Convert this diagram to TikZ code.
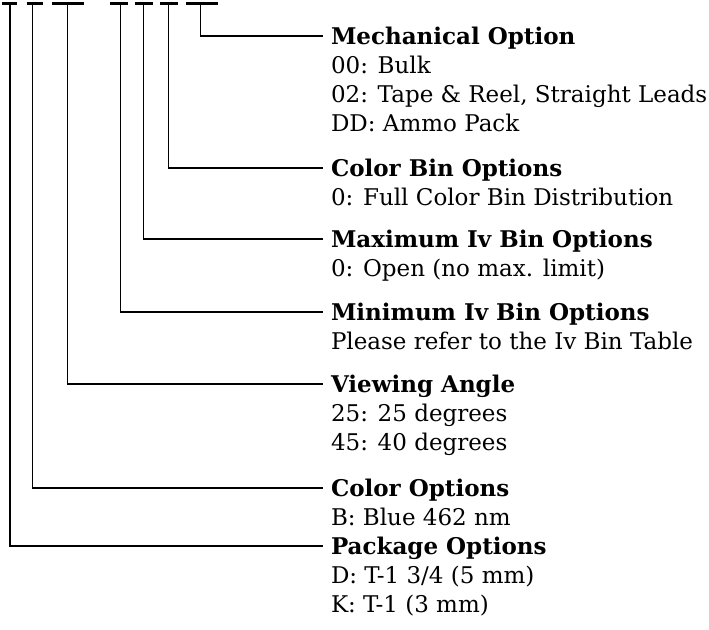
\documentclass[tikz,border=0pt]{standalone}
\usepackage{fontspec}
\setmainfont{DejaVu Serif}
\begin{document}
\begin{tikzpicture}[x=1pt,y=-1pt,
    bar/.style={line width=3pt},
    lead/.style={line width=1.2pt,shorten >=8pt},
    head/.style={anchor=west,inner sep=0pt,outer sep=0pt,text height=16.8pt,text depth=0pt,
      font=\fontsize{23}{29}\selectfont\bfseries},
    entry/.style={anchor=base west,inner sep=0pt,outer sep=0pt,font=\fontsize{23}{29}\selectfont}]
  \useasboundingbox (0,0) rectangle (709,629);
  % code field bars
  \draw[bar] (1.7,3.5) -- (17.3,3.5);
  \draw[bar] (26.7,3.5) -- (42.7,3.5);
  \draw[bar] (52,3.5) -- (84,3.5);
  \draw[bar] (110,3.5) -- (128,3.5);
  \draw[bar] (135,3.5) -- (153,3.5);
  \draw[bar] (160,3.5) -- (178,3.5);
  \draw[bar] (186,3.5) -- (218,3.5);
  \coordinate (pkgTop) at (10,3.5);
  \coordinate (colTop) at (32.7,3.5);
  \coordinate (viewTop) at (67.7,3.5);
  \coordinate (minTop) at (120.7,3.5);
  \coordinate (maxTop) at (143.3,3.5);
  \coordinate (binTop) at (168.7,3.5);
  \coordinate (mechTop) at (200.7,3.5);
  % option headings
  \node[head] (mechHead) at (331,36) {Mechanical Option};
  \node[head] (binHead) at (331,168) {Color Bin Options};
  \node[head] (maxHead) at (331,239) {Maximum Iv Bin Options};
  \node[head] (minHead) at (331,312) {Minimum Iv Bin Options};
  \node[head] (viewHead) at (331,384) {Viewing Angle};
  \node[head] (colHead) at (331,488) {Color Options};
  \node[head] (pkgHead) at (331,546) {Package Options};
  % option values
  \node[entry] (mechA) at ([yshift=-29pt]mechHead.base west) {00: Bulk};
  \node[entry] (mechB) at ([yshift=-29pt]mechA.base west) {02: Tape \& Reel, Straight Leads};
  \node[entry] (mechC) at ([yshift=-29pt]mechB.base west) {DD: Ammo Pack};
  \node[entry] (binA) at ([yshift=-29pt]binHead.base west) {0: Full Color Bin Distribution};
  \node[entry] (maxA) at ([yshift=-29pt]maxHead.base west) {0: Open (no max. limit)};
  \node[entry] (minA) at ([yshift=-29pt]minHead.base west) {Please refer to the Iv Bin Table};
  \node[entry] (viewA) at ([yshift=-29pt]viewHead.base west) {25: 25 degrees};
  \node[entry] (viewB) at ([yshift=-29pt]viewA.base west) {45: 40 degrees};
  \node[entry] (colA) at ([yshift=-29pt]colHead.base west) {B: Blue 462 nm};
  \node[entry] (pkgA) at ([yshift=-29pt]pkgHead.base west) {D: T-1 3/4 (5 mm)};
  \node[entry] (pkgB) at ([yshift=-29pt]pkgA.base west) {K: T-1 (3 mm)};
  % leads
  \draw[lead] (mechTop) |- (mechHead.west);
  \draw[lead] (binTop) |- (binHead.west);
  \draw[lead] (maxTop) |- (maxHead.west);
  \draw[lead] (minTop) |- (minHead.west);
  \draw[lead] (viewTop) |- (viewHead.west);
  \draw[lead] (colTop) |- (colHead.west);
  \draw[lead] (pkgTop) |- (pkgHead.west);
\end{tikzpicture}
\end{document}
